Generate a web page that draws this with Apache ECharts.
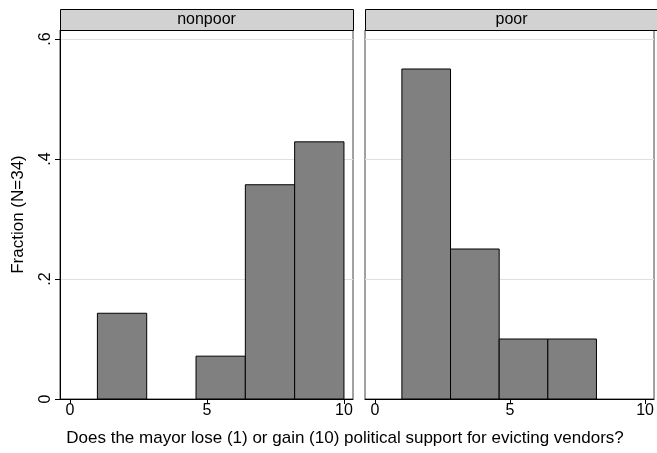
<!DOCTYPE html>
<html>
<head>
<meta charset="utf-8">
<script src="https://cdn.jsdelivr.net/npm/echarts@6/dist/echarts.min.js"></script>
<style>
  html, body { margin: 0; padding: 0; background: #fff; }
  #chart { width: 657px; height: 453px; }
</style>
</head>
<body>
<div id="chart"></div>
<script>
// Histogram bins: 5 equal-width bins from 1 to 10
const binEdges = [1, 2.8, 4.6, 6.4, 8.2, 10];
const panels = ['nonpoor', 'poor'];
const nonpoorFraction = [0.1429, 0, 0.0714, 0.3571, 0.4286];
const poorFraction = [0.55, 0.25, 0.10, 0.10, 0];
const xTicks = [0, 5, 10];
const yTicks = [0, 0.2, 0.4, 0.6];
const yTitle = 'Fraction (N=34)';
const xTitle = 'Does the mayor lose (1) or gain (10) political support for evicting vendors?';

const FONT = '"Liberation Sans", Arial, Helvetica, sans-serif';

function binData(fracs) {
  return fracs.map((f, i) => [binEdges[i], binEdges[i + 1], f]);
}

function renderBin(params, api) {
  if (!(api.value(2) > 0)) return null; // empty bins draw nothing
  const p0 = api.coord([api.value(0), api.value(2)]);
  const p1 = api.coord([api.value(1), 0]);
  return {
    type: 'rect',
    shape: { x: p0[0], y: p0[1], width: p1[0] - p0[0], height: p1[1] - p0[1] },
    style: { fill: '#808080', stroke: '#000', lineWidth: 1 }
  };
}

const grids = [
  { left: 60, top: 30, width: 293, bottom: 54 },
  { left: 365, top: 30, width: 293, bottom: 54 }
];

const xAxes = grids.map((g, i) => ({
  type: 'value', gridIndex: i, min: -0.365, max: 10.33,
  axisLine: { show: true, onZero: false, lineStyle: { color: '#000', width: 1 } },
  axisTick: { show: true, customValues: xTicks, length: 5, lineStyle: { color: '#000' } },
  axisLabel: { customValues: xTicks, color: '#000', fontSize: 16, fontFamily: FONT, margin: 4 },
  splitLine: { show: false }
}));

const yAxes = grids.map((g, i) => ({
  type: 'value', gridIndex: i, min: 0, max: 0.615,
  name: i === 0 ? yTitle : '',
  nameLocation: 'middle', nameGap: 33,
  nameTextStyle: { color: '#000', fontSize: 17, fontFamily: FONT },
  axisLine: { show: i === 0, onZero: false, lineStyle: { color: '#000', width: 1 } },
  axisTick: { show: i === 0, customValues: yTicks, length: 5, lineStyle: { color: '#000' } },
  axisLabel: {
    show: i === 0, customValues: yTicks, rotate: 90, color: '#000', fontSize: 16, fontFamily: FONT, margin: 6,
    formatter: v => v === 0 ? '0' : String(+v.toFixed(1)).replace(/^0\./, '.')
  },
  splitLine: { show: true, lineStyle: { color: '#e0e0e0', width: 1.2 } }
}));

// Panel header strips above each plot region
const graphics = [];
grids.forEach((g, i) => {
  graphics.push({
    type: 'rect', left: g.left, top: 9,
    shape: { width: g.width, height: 21 },
    style: { fill: '#d2d2d2', stroke: '#000', lineWidth: 1 }
  });
  graphics.push({
    type: 'text', x: g.left + g.width / 2, y: 20,
    style: { text: panels[i], textAlign: 'center', textVerticalAlign: 'middle', fill: '#000', fontSize: 16, fontFamily: FONT }
  });
});
graphics.push({
  type: 'text', x: 345, y: 438,
  style: { text: xTitle, textAlign: 'center', textVerticalAlign: 'middle', fill: '#000', fontSize: 17, fontFamily: FONT }
});

const chart = echarts.init(document.getElementById('chart'), null, { renderer: 'canvas' });
chart.setOption({
  animation: false,
  backgroundColor: '#fff',
  grid: grids.map(g => Object.assign({ show: true, borderColor: '#444', borderWidth: 1, backgroundColor: '#fff' }, g)),
  xAxis: xAxes,
  yAxis: yAxes,
  series: [
    { type: 'custom', xAxisIndex: 0, yAxisIndex: 0, renderItem: renderBin, data: binData(nonpoorFraction), encode: { x: [0, 1], y: 2 } },
    { type: 'custom', xAxisIndex: 1, yAxisIndex: 1, renderItem: renderBin, data: binData(poorFraction), encode: { x: [0, 1], y: 2 } }
  ],
  graphic: graphics
});
</script>
</body>
</html>
